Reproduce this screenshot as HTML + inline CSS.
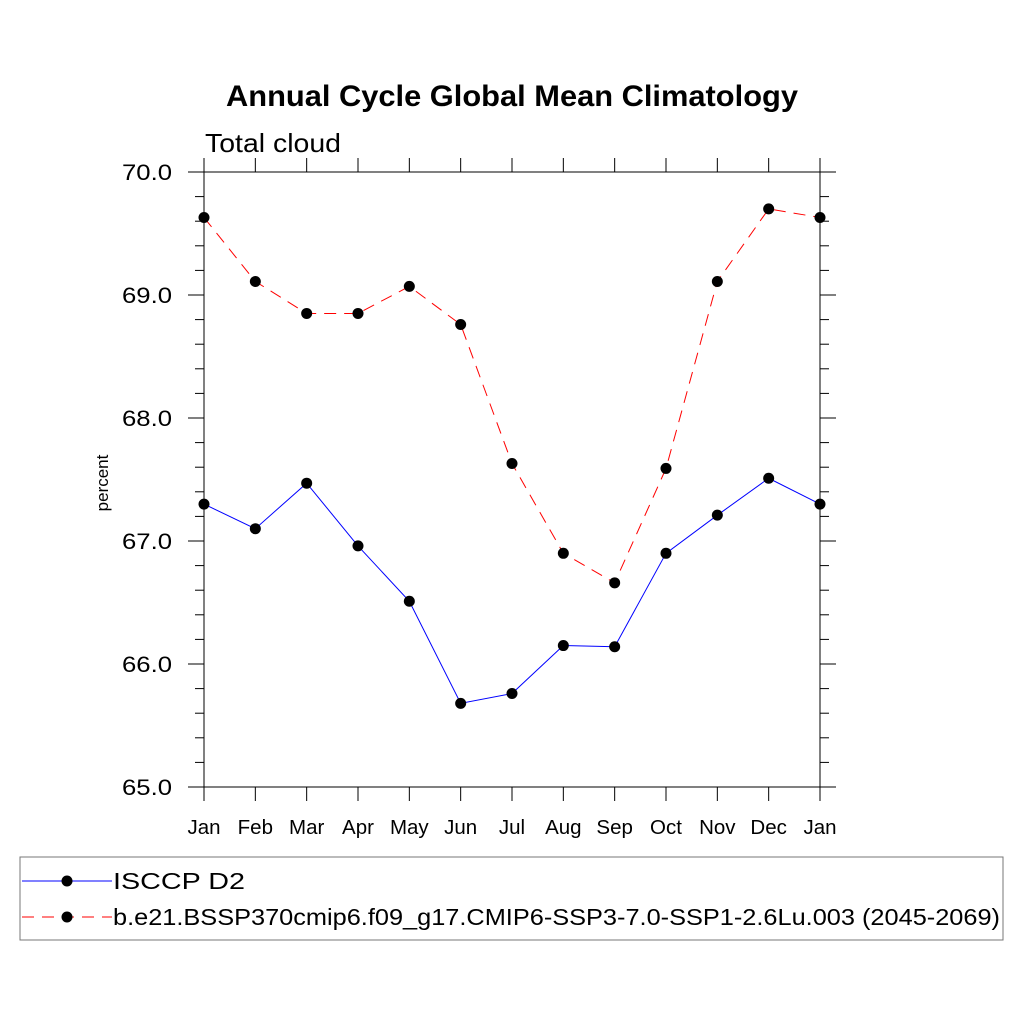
<!DOCTYPE html>
<html><head><meta charset="utf-8"><style>
body{margin:0;background:#fff}
text{font-family:"Liberation Sans",sans-serif}
</style></head><body>
<svg id="chart" width="1024" height="1024" viewBox="0 0 1024 1024">
<text x="226" y="106" textLength="572" lengthAdjust="spacingAndGlyphs" font-size="30" font-weight="bold">Annual Cycle Global Mean Climatology</text>
<text x="205" y="152" textLength="136" lengthAdjust="spacingAndGlyphs" font-size="26">Total cloud</text>
<text transform="translate(108,483) rotate(-90)" text-anchor="middle" font-size="17">percent</text>
<g id="axes"></g>
<g id="series"></g>
<rect x="20" y="857" width="983" height="83" fill="none" stroke="#777" stroke-width="1"/>
<g>
<line x1="22" y1="881" x2="112" y2="881" stroke="#00f" stroke-width="1"/>
<circle cx="67" cy="881" r="5.5" fill="#000"/>
<text x="113" y="889" textLength="132" lengthAdjust="spacingAndGlyphs" font-size="23">ISCCP D2</text>
</g>
<g>
<line x1="22" y1="917" x2="112" y2="917" stroke="#f00" stroke-width="1" stroke-dasharray="12,8"/>
<circle cx="67" cy="917" r="5.5" fill="#000"/>
<text x="113" y="925" textLength="887" lengthAdjust="spacingAndGlyphs" font-size="23">b.e21.BSSP370cmip6.f09_g17.CMIP6-SSP3-7.0-SSP1-2.6Lu.003 (2045-2069)</text>
</g>
</svg>
<script>
const months=["Jan","Feb","Mar","Apr","May","Jun","Jul","Aug","Sep","Oct","Nov","Dec","Jan"];
const isccp=[67.30,67.10,67.47,66.96,66.51,65.68,65.76,66.15,66.14,66.90,67.21,67.51,67.30];
const model=[69.63,69.11,68.85,68.85,69.07,68.76,67.63,66.90,66.66,67.59,69.11,69.70,69.63];
const yTicks=[65.0,66.0,67.0,68.0,69.0,70.0];
const NS="http://www.w3.org/2000/svg";
const L=204,R=820,T=172,B=787,ymin=65,ymax=70;
const xs=i=>L+(R-L)*i/(months.length-1);
const ys=v=>B-(v-ymin)/(ymax-ymin)*(B-T);
function mk(tag,attrs,parent){const e=document.createElementNS(NS,tag);for(const k in attrs)e.setAttribute(k,attrs[k]);parent.appendChild(e);return e;}
const ax=document.getElementById("axes");
const frame=mk("rect",{x:L,y:T,width:R-L,height:B-T,fill:"none",stroke:"#000","stroke-width":1},ax);


months.forEach((m,i)=>{
 const x=xs(i);
 mk("line",{x1:x,y1:B,x2:x,y2:B+14,stroke:"#000"},ax);
 mk("line",{x1:x,y1:T,x2:x,y2:T-14,stroke:"#000"},ax);
 const t=mk("text",{x:x,y:B+47,"text-anchor":"middle","font-size":20.5},ax);t.textContent=m;
 
 
});
for(let v=ymin;v<=ymax+1e-9;v+=0.2){
 const y=ys(v),maj=Math.abs(v-Math.round(v))<1e-6,len=maj?16:9;
 mk("line",{x1:L-len,y1:y,x2:L,y2:y,stroke:"#000"},ax);
 mk("line",{x1:R,y1:y,x2:R+len,y2:y,stroke:"#000"},ax);
}
yTicks.forEach(v=>{
 const t=mk("text",{x:L-32,y:ys(v)+8,"text-anchor":"end","font-size":22,textLength:50,lengthAdjust:"spacingAndGlyphs"},ax);t.textContent=v.toFixed(1);
 
 
});
const sg=document.getElementById("series");
function series(vals,color,dash,name){
 const p=mk("polyline",{points:vals.map((v,i)=>xs(i)+","+ys(v)).join(" "),fill:"none",stroke:color,"stroke-width":1,"stroke-dasharray":dash},sg);
 
 
 vals.forEach((v,i)=>{
  const c=mk("circle",{cx:xs(i),cy:ys(v),r:5.5,fill:"#000"},sg);
  
  
 });
}
series(isccp,"#00f","none","isccp");
series(model,"#f00","12,8","model");
</script>
</body></html>
